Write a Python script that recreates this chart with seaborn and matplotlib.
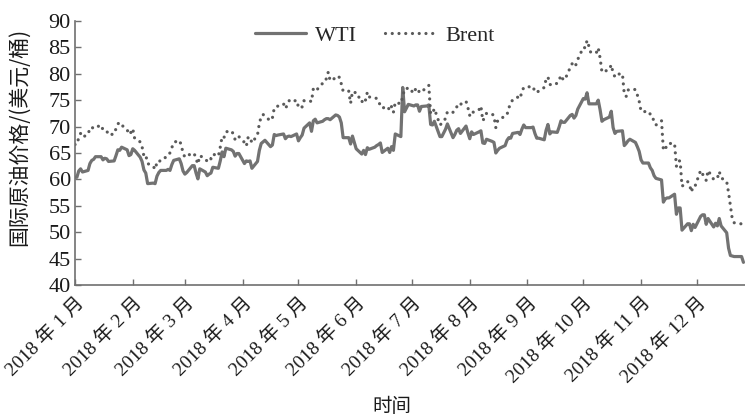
import matplotlib
matplotlib.use('Agg')
import matplotlib.pyplot as plt
import seaborn as sns
import pandas as pd

# Daily prices (Mon-Fri per row), USD/bbl
wti_weeks = [
    [60.4, 60.4, 61.6, 62.0, 61.4], [61.7, 63.0, 63.6, 63.8, 64.3], [64.3, 63.7, 64.0, 63.9, 63.4],
    [63.5, 64.5, 65.6, 65.5, 66.1], [65.6, 64.5, 64.7, 65.8, 65.5], [64.2, 63.4, 61.8, 61.2, 59.2],
    [59.3, 59.2, 60.6, 61.3, 61.7], [61.7, 61.9, 61.7, 62.8, 63.6], [63.9, 63.0, 61.6, 61.0, 61.3],
    [62.6, 62.6, 61.2, 60.1, 62.0], [61.4, 60.7, 61.0, 61.2, 62.3], [62.1, 63.5, 65.2, 64.3, 65.9],
    [65.6, 65.3, 64.4, 64.9, 64.9], [63.0, 63.5, 63.4, 63.5, 62.1], [63.4, 65.5, 66.8, 67.1, 67.4],
    [66.2, 66.5, 68.5, 68.3, 68.4], [68.6, 67.7, 68.1, 68.2, 68.1], [68.6, 67.3, 67.9, 68.4, 69.7],
    [70.7, 69.1, 71.1, 71.4, 70.7], [71.0, 71.3, 71.5, 71.5, 71.3], [72.2, 72.1, 71.8, 70.7, 67.9],
    [67.9, 66.7, 68.2, 67.0, 65.8], [64.8, 65.5, 64.7, 66.0, 65.7], [66.1, 66.4, 66.6, 66.9, 65.1],
    [65.9, 65.1, 66.2, 65.5, 68.6], [68.1, 77.4, 72.8, 73.5, 74.2], [73.9, 74.1, 74.1, 72.9, 73.8],
    [73.9, 74.1, 70.4, 70.3, 71.0], [68.1, 68.1, 68.8, 69.5, 70.5], [67.9, 68.5, 69.3, 69.6, 68.7],
    [70.1, 68.8, 67.7, 69.0, 68.5], [69.0, 69.2, 66.9, 66.8, 67.6], [67.2, 67.0, 65.0, 65.5, 65.9],
    [66.4, 67.4, 67.9, 67.8, 68.7], [68.9, 68.5, 69.5, 70.3, 69.8], [69.8, 69.9, 68.7, 67.8, 67.8],
    [67.5, 69.3, 70.4, 68.6, 69.0], [68.9, 69.9, 71.1, 70.8, 70.8], [72.1, 72.3, 71.6, 72.1, 73.3],
    [75.3, 75.2, 76.4, 74.3, 74.3], [74.3, 75.0, 73.2, 71.0, 71.3], [71.8, 72.9, 69.8, 68.7, 69.1],
    [69.2, 66.4, 66.8, 67.3, 67.6], [67.0, 66.2, 65.3, 63.7, 63.1], [63.1, 62.2, 61.7, 60.7, 60.2],
    [59.9, 55.7, 56.3, 56.5, 56.5], [57.2, 53.4, 54.6, 54.6, 50.4], [51.6, 51.6, 50.3, 51.5, 50.9],
    [53.0, 53.3, 53.3, 51.5, 52.6], [51.0, 51.7, 51.2, 52.6, 51.2], [49.9, 47.0, 45.6, 45.5, 45.4],
    [45.4, 45.4, 44.3],
]
brent_weeks = [
    [66.6, 66.6, 67.9, 68.7, 68.0], [68.5, 69.7, 69.9, 69.6, 69.8], [70.3, 69.4, 69.2, 69.2, 68.4],
    [68.6, 69.6, 70.5, 70.8, 70.3], [69.4, 68.5, 68.9, 69.6, 67.8], [67.1, 66.2, 64.4, 64.6, 63.0],
    [62.5, 61.9, 63.2, 63.1, 63.8], [64.2, 64.8, 65.0, 66.0, 67.0], [67.4, 66.6, 65.0, 64.2, 64.4],
    [65.0, 64.9, 63.9, 62.9, 64.5], [63.9, 63.4, 64.0, 63.9, 64.8], [64.4, 66.1, 68.1, 67.9, 69.0],
    [69.2, 68.6, 67.5, 68.1, 68.1], [67.0, 66.3, 68.0, 68.0, 66.9], [68.4, 70.6, 71.9, 72.3, 71.9],
    [71.1, 71.6, 73.5, 73.6, 73.9], [74.3, 73.4, 74.1, 74.9, 74.6], [75.0, 73.7, 74.0, 73.7, 74.9],
    [74.9, 74.7, 77.2, 77.4, 77.0], [78.2, 78.3, 79.1, 80.3, 78.7], [79.2, 79.6, 79.3, 78.1, 76.7],
    [76.7, 74.4, 76.6, 76.4, 76.5], [74.6, 75.4, 75.0, 76.5, 75.6], [75.5, 75.3, 75.0, 73.8, 73.5],
    [73.8, 73.0, 73.8, 72.7, 74.6], [74.3, 75.7, 77.1, 77.1, 77.4], [76.3, 77.2, 77.3, 76.4, 76.6],
    [77.4, 77.8, 72.4, 72.5, 73.4], [70.3, 70.6, 70.9, 71.6, 72.8], [72.7, 73.4, 73.7, 74.4, 74.2],
    [74.8, 73.6, 72.1, 72.9, 72.7], [73.2, 73.9, 71.1, 71.7, 72.5], [72.4, 72.0, 69.8, 71.1, 71.5],
    [71.9, 72.2, 73.6, 74.2, 75.1], [75.6, 75.3, 76.6, 77.4, 77.4], [77.6, 77.6, 76.5, 76.5, 76.7],
    [77.4, 79.0, 79.4, 78.0, 77.8], [78.2, 78.8, 79.7, 79.0, 78.8], [81.2, 81.9, 81.3, 81.7, 82.7],
    [85.0, 84.9, 86.3, 85.2, 84.0], [84.0, 84.9, 83.0, 80.3, 80.4], [80.8, 81.7, 80.1, 79.4, 79.9],
    [80.0, 76.1, 75.7, 76.9, 77.1], [77.0, 76.0, 74.8, 72.9, 72.8], [72.9, 72.3, 72.1, 70.8, 70.3],
    [71.1, 65.5, 65.7, 66.6, 66.8], [66.8, 62.5, 63.5, 63.5, 58.7], [59.6, 59.1, 57.6, 58.7, 58.7],
    [61.7, 61.0, 60.6, 59.8, 61.7], [60.0, 60.2, 60.2, 61.5, 60.3], [59.6, 57.5, 55.0, 52.5, 51.8],
    [51.6, 51.6, 51.6],
]
series_names = ['WTI', 'Brent']
month_labels = ['2018 年 %d 月' % m for m in range(1, 13)]
y_ticks = [40, 45, 50, 55, 60, 65, 70, 75, 80, 85, 90]

wti = [v for w in wti_weeks for v in w]
brent = [v for w in brent_weeks for v in w]
dates = pd.bdate_range('2018-01-01', periods=len(wti))

df = pd.concat([
    pd.DataFrame({'date': dates, 'price': wti, 'series': 'WTI'}),
    pd.DataFrame({'date': dates, 'price': brent, 'series': 'Brent'}),
])

sns.set_style('ticks')
plt.rcParams['font.family'] = ['Liberation Serif', 'Noto Sans CJK SC']
plt.rcParams['lines.dash_capstyle'] = 'round'

fig = plt.figure(figsize=(7.45, 4.18), dpi=100)
ax = fig.add_axes([0.1007, 0.318, 0.8993, 0.632])

sns.lineplot(data=df, x='date', y='price', hue='series', style='series',
             hue_order=series_names, style_order=series_names,
             palette={'WTI': '#727272', 'Brent': '#5a5a5a'},
             dashes={'WTI': '', 'Brent': (0.01, 2.1)},
             linewidth=2.3, ax=ax, legend=False)

ax.set_xlim(pd.Timestamp('2018-01-01'), pd.Timestamp('2018-12-26 20:00'))
ax.set_ylim(40, 90)
ax.set_yticks(y_ticks)
ax.set_yticklabels([str(t) for t in y_ticks], fontsize=16)
ax.set_xticks(pd.date_range('2018-01-01', periods=12, freq='MS'))
ax.set_xticklabels(month_labels, fontsize=14, rotation=45, rotation_mode='anchor',
                   ha='right', va='top')

for s in ['top', 'right']:
    ax.spines[s].set_visible(False)
for s in ['left', 'bottom']:
    ax.spines[s].set_color('#707070')
    ax.spines[s].set_linewidth(1.2)
ax.tick_params(direction='in', length=4, width=1.0, color='#707070', labelcolor='#1a1a1a')
ax.tick_params(axis='x', pad=6)
ax.tick_params(axis='y', pad=3)

ax.set_ylabel('国际原油价格/(美元/桶)', fontsize=15, family=['Noto Sans CJK SC'], color='#1a1a1a')
ax.yaxis.set_label_coords(-0.067, 0.56)
ax.set_xlabel('时间', fontsize=14, family=['Noto Sans CJK SC'], color='#1a1a1a')
ax.xaxis.set_label_coords(0.473, -0.42)

lines = ax.get_lines()
ax.legend(lines[:2], series_names, ncol=2, frameon=False, fontsize=16,
          loc='center', bbox_to_anchor=(0.503, 0.914), bbox_transform=fig.transFigure,
          handlelength=2.3, handletextpad=0.4, columnspacing=1.3)

fig.savefig('out.png', dpi=100)
